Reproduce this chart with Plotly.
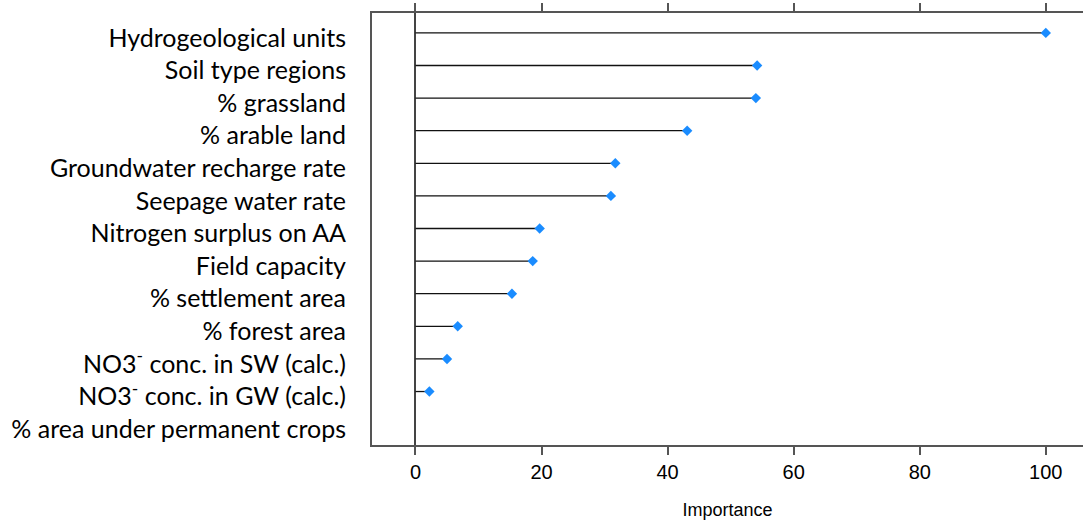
import plotly.graph_objects as go

variables = [
    "Hydrogeological units",
    "Soil type regions",
    "% grassland",
    "% arable land",
    "Groundwater recharge rate",
    "Seepage water rate",
    "Nitrogen surplus on AA",
    "Field capacity",
    "% settlement area",
    "% forest area",
    "NO3<sup>-</sup> conc. in SW (calc.)",
    "NO3<sup>-</sup> conc. in GW (calc.)",
    "% area under permanent crops",
]
importance = [100, 54.2, 54.0, 43.1, 31.7, 31.0, 19.7, 18.6, 15.3, 6.7, 5.0, 2.2, None]

x_ticks = [0, 20, 40, 60, 80, 100]

stem_x, stem_y = [], []
for v, n in zip(importance, variables):
    if v is None:
        continue
    stem_x += [0, v, None]
    stem_y += [n, n, None]

fig = go.Figure()
fig.add_trace(go.Scatter(x=stem_x, y=stem_y, mode="lines",
                         line=dict(color="#111111", width=1.3), hoverinfo="skip",
                         showlegend=False))
fig.add_trace(go.Scatter(x=importance, y=variables, mode="markers",
                         marker=dict(symbol="diamond", size=8, color="#1a8cff"),
                         showlegend=False))
# invisible helper trace carrying the label axis
fig.add_trace(go.Scatter(x=[0] * len(variables), y=variables, yaxis="y2", mode="markers",
                         marker=dict(opacity=0), hoverinfo="skip", showlegend=False))

label_font = dict(family="Lato, Noto Sans", size=25, color="black")
row_range = [12.64, -0.61]
label_shift = 0.15

fig.update_layout(
    width=1083, height=527,
    margin=dict(l=372, r=0, t=13, b=82),
    paper_bgcolor="white", plot_bgcolor="white",
    xaxis=dict(range=[-6.9, 105.9], tickvals=x_ticks, showgrid=False, automargin=False,
               zeroline=True, zerolinecolor="#444444", zerolinewidth=1.5,
               showline=True, linecolor="#555555", linewidth=1.5, mirror="allticks",
               ticks="outside", ticklen=8, tickwidth=1.5, tickcolor="#555555",
               tickfont=dict(family="Liberation Sans Narrow, Liberation Sans, Arial", size=20, color="black"),
               title=dict(text="Importance", standoff=22,
                          font=dict(family="Liberation Sans Narrow, Liberation Sans, Arial", size=18, color="black"))),
    yaxis=dict(type="category", categoryorder="array", categoryarray=variables,
               range=row_range, showgrid=False, zeroline=False, automargin=False,
               showline=True, linecolor="#555555", linewidth=1.5, mirror=False,
               ticks="", showticklabels=False),
    yaxis2=dict(type="category", categoryorder="array", categoryarray=variables,
                overlaying="y", side="left",
                range=[row_range[0] - label_shift, row_range[1] - label_shift],
                showgrid=False, zeroline=False, automargin=False, showline=False,
                ticks="", ticklabelstandoff=25, tickfont=label_font),
)

fig.write_html("out.html", config={"displayModeBar": False},
               post_script="document.body.style.margin='0';")
